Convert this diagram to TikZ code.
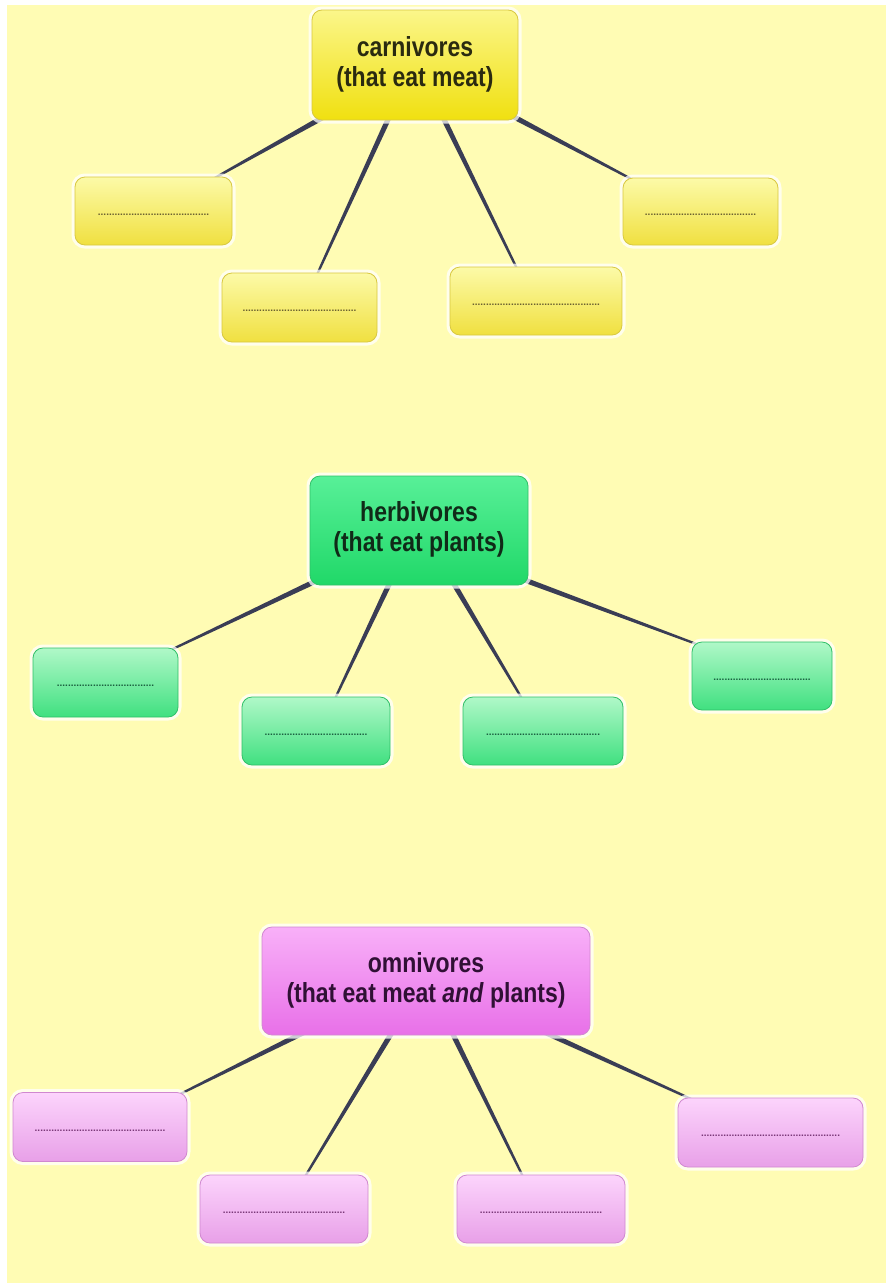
\documentclass[tikz,border=0pt]{standalone}
\usepackage{fontspec}
\setmainfont{Liberation Sans}
\usetikzlibrary{calc}
\pgfdeclarelayer{back}
\pgfdeclarelayer{bg}
\pgfsetlayers{back,bg,main}
\definecolor{bgyellow}{HTML}{FFFCB4}
\definecolor{conncol}{HTML}{3A3D55}
\definecolor{ytop}{HTML}{FBF68A}
\definecolor{ybot}{HTML}{F0E010}
\definecolor{yctop}{HTML}{FCFAA8}
\definecolor{ycbot}{HTML}{F0E040}
\definecolor{ydraw}{HTML}{D8C840}
\definecolor{ytext}{HTML}{2A2A10}
\definecolor{ydots}{HTML}{6A6030}
\definecolor{gtop}{HTML}{58F098}
\definecolor{gbot}{HTML}{20D868}
\definecolor{gctop}{HTML}{B0F8C8}
\definecolor{gcbot}{HTML}{40E080}
\definecolor{gdraw}{HTML}{30C068}
\definecolor{gtext}{HTML}{102A18}
\definecolor{gdots}{HTML}{1A6040}
\definecolor{ptop}{HTML}{F8B0F8}
\definecolor{pbot}{HTML}{E870E8}
\definecolor{pctop}{HTML}{FCD4FC}
\definecolor{pcbot}{HTML}{E8A0E8}
\definecolor{pdraw}{HTML}{D088D0}
\definecolor{ptext}{HTML}{301035}
\definecolor{pdots}{HTML}{7A3878}
\newcommand\taperconn[2]{\fill[conncol] ($(#1)!2.6pt!90:(#2)$) -- ($(#2)!1.1pt!-90:(#1)$) -- ($(#2)!1.1pt!90:(#1)$) -- ($(#1)!2.6pt!-90:(#2)$) -- cycle;}
\newcommand\headtext[2]{\scalebox{1}[1.2]{\fontsize{23}{25}\selectfont\bfseries\begin{tabular}{@{}c@{}}#1\\#2\end{tabular}}}
\newcommand\dotrow[1]{\raisebox{-4pt}[0pt][0pt]{\fontsize{10}{11}\selectfont\bfseries\foreach \i in {1,...,#1}{.}}}
\begin{document}
\begin{tikzpicture}[x=1pt,y=-1pt,
  box/.style={rounded corners=10pt, line width=0.8pt, inner sep=0pt, align=center,
    preaction={draw=white, line width=7pt, opacity=0.75}},
  yhead/.style={box, draw=ydraw, top color=ytop, bottom color=ybot, text=ytext},
  ychild/.style={box, draw=ydraw, top color=yctop, bottom color=ycbot, text=ydots},
  ghead/.style={box, draw=gdraw, top color=gtop, bottom color=gbot, text=gtext},
  gchild/.style={box, draw=gdraw, top color=gctop, bottom color=gcbot, text=gdots},
  phead/.style={box, draw=pdraw, top color=ptop, bottom color=pbot, text=ptext},
  pchild/.style={box, draw=pdraw, top color=pctop, bottom color=pcbot, text=pdots}]
\useasboundingbox (0,0) rectangle (888,1285);
\begin{pgfonlayer}{back}
\fill[white] (0,0) rectangle (888,1285);
\fill[bgyellow] (7,5) rectangle (886,1283);
\end{pgfonlayer}

% carnivores
\node[yhead, minimum width=206pt, minimum height=110pt] (car) at (415,65) {\headtext{carnivores}{(that eat meat)}};
\node[ychild, minimum width=157pt, minimum height=68pt] (c1) at (153.5,211) {\dotrow{40}};
\node[ychild, minimum width=155pt, minimum height=69pt] (c2) at (299.5,307.5) {\dotrow{41}};
\node[ychild, minimum width=172pt, minimum height=68pt] (c3) at (536,301) {\dotrow{46}};
\node[ychild, minimum width=155pt, minimum height=67pt] (c4) at (700.5,211.5) {\dotrow{40}};

% herbivores
\node[ghead, minimum width=218pt, minimum height=109pt] (her) at (419,530.5) {\headtext{herbivores}{(that eat plants)}};
\node[gchild, minimum width=145pt, minimum height=69pt] (h1) at (105.5,682.5) {\dotrow{35}};
\node[gchild, minimum width=148pt, minimum height=68pt] (h2) at (316,731) {\dotrow{37}};
\node[gchild, minimum width=160pt, minimum height=68pt] (h3) at (543,731) {\dotrow{41}};
\node[gchild, minimum width=140pt, minimum height=68pt] (h4) at (762,676) {\dotrow{35}};

% omnivores
\node[phead, minimum width=328pt, minimum height=108pt] (omn) at (426,981) {\headtext{omnivores}{(that eat meat \textit{and} plants)}};
\node[pchild, minimum width=174pt, minimum height=69pt] (o1) at (100,1127) {\dotrow{47}};
\node[pchild, minimum width=168pt, minimum height=68pt] (o2) at (284,1209) {\dotrow{44}};
\node[pchild, minimum width=168pt, minimum height=68pt] (o3) at (541,1209) {\dotrow{44}};
\node[pchild, minimum width=185pt, minimum height=69pt] (o4) at (770.5,1132.5) {\dotrow{50}};

\begin{pgfonlayer}{bg}
  \coordinate (ca1) at ([xshift=-92pt,yshift=3pt]car.south);
  \coordinate (cb1) at ([xshift=60pt,yshift=-2pt]c1.north);
  \coordinate (ca2) at ([xshift=-26pt,yshift=3pt]car.south);
  \coordinate (cb2) at ([xshift=17.5pt,yshift=-2pt]c2.north);
  \coordinate (ca3) at ([xshift=28pt,yshift=3pt]car.south);
  \coordinate (cb3) at ([xshift=-19pt,yshift=-2pt]c3.north);
  \coordinate (ca4) at ([xshift=98pt,yshift=4pt]car.south);
  \coordinate (cb4) at ([xshift=-68pt,yshift=-2pt]c4.north);
  \taperconn{ca1}{cb1}\taperconn{ca2}{cb2}\taperconn{ca3}{cb3}\taperconn{ca4}{cb4}

  \coordinate (ha1) at ([xshift=-104pt,yshift=4pt]her.south);
  \coordinate (hb1) at ([xshift=66pt,yshift=-2pt]h1.north);
  \coordinate (ha2) at ([xshift=-29pt,yshift=3pt]her.south);
  \coordinate (hb2) at ([xshift=19pt,yshift=-2pt]h2.north);
  \coordinate (ha3) at ([xshift=34pt,yshift=3pt]her.south);
  \coordinate (hb3) at ([xshift=-21pt,yshift=-2pt]h3.north);
  \coordinate (ha4) at ([xshift=104pt,yshift=6pt]her.south);
  \coordinate (hb4) at ([xshift=-64pt,yshift=-3pt]h4.north);
  \taperconn{ha1}{hb1}\taperconn{ha2}{hb2}\taperconn{ha3}{hb3}\taperconn{ha4}{hb4}

  \coordinate (oa1) at ([xshift=-122pt,yshift=3pt]omn.south);
  \coordinate (ob1) at ([xshift=80pt,yshift=-2pt]o1.north);
  \coordinate (oa2) at ([xshift=-34pt,yshift=3pt]omn.south);
  \coordinate (ob2) at ([xshift=21pt,yshift=-2pt]o2.north);
  \coordinate (oa3) at ([xshift=26pt,yshift=3pt]omn.south);
  \coordinate (ob3) at ([xshift=-18pt,yshift=-2pt]o3.north);
  \coordinate (oa4) at ([xshift=119pt,yshift=3pt]omn.south);
  \coordinate (ob4) at ([xshift=-78pt,yshift=-2pt]o4.north);
  \taperconn{oa1}{ob1}\taperconn{oa2}{ob2}\taperconn{oa3}{ob3}\taperconn{oa4}{ob4}
\end{pgfonlayer}
\end{tikzpicture}
\end{document}
